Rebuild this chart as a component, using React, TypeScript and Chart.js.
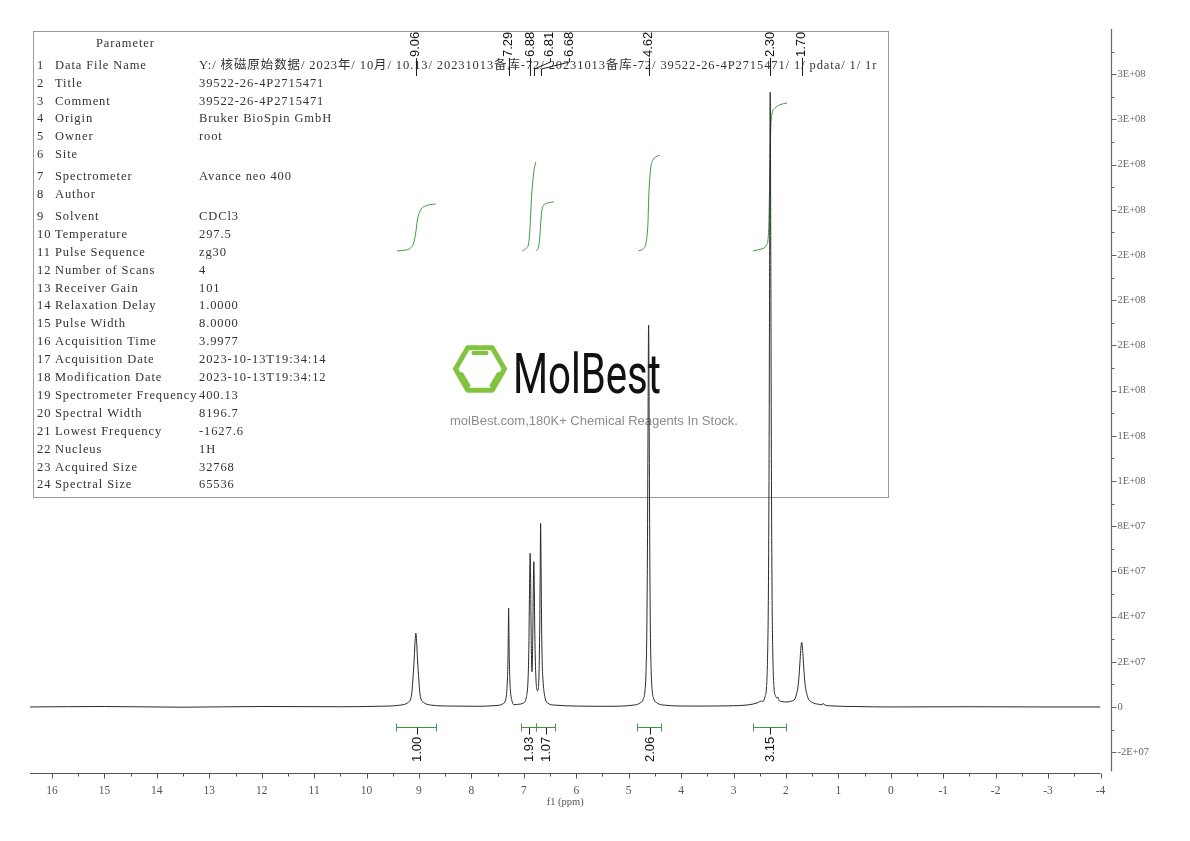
import React, { useEffect, useRef } from "react";
import { Chart, registerables } from "chart.js";

Chart.register(...registerables);

// ---------------- DATA ----------------
// 1H NMR spectrum: [ppm, intensity]
const spectrumPoints: [number, number][] = [
  [16.42, 0], [15.0, 2e5], [13.5, -1e5], [12.0, 2e5], [10.5, 1e5], [9.8, 3e5],
  [9.36, 8e5], [9.22, 1.8e6], [9.16, 3.5e6], [9.135, 6.5e6], [9.117, 1.2e7], [9.105, 1.6e7],
  [9.09, 2.2e7], [9.075, 2.9e7], [9.06, 3.27e7], [9.045, 2.9e7], [9.03, 2.2e7], [9.015, 1.6e7],
  [9.003, 1.2e7], [8.985, 6.5e6], [8.96, 3.5e6], [8.9, 1.8e6], [8.76, 8e5], [8.4, 4e5],
  [7.9, 3e5], [7.55, 6e5], [7.39, 1.5e6], [7.35, 3e6], [7.325, 7e6], [7.312, 1.3e7],
  [7.302, 2.2e7], [7.296, 3.3e7], [7.29, 4.38e7], [7.284, 3.3e7], [7.278, 2.2e7], [7.268, 1.3e7],
  [7.255, 7e6], [7.23, 3e6], [7.19, 1.0e6], [7.1, 1.2e6], [7.02, 1.6e6], [6.95, 4.6e6],
  [6.92, 1.2e7], [6.905, 2.5e7], [6.895, 4.5e7], [6.885, 6.3e7], [6.88, 6.8e7], [6.872, 6.0e7],
  [6.862, 3.5e7], [6.845, 1.56e7], [6.83, 3.0e7], [6.818, 5.5e7], [6.81, 6.43e7], [6.802, 5.6e7],
  [6.79, 3.2e7], [6.77, 1.3e7], [6.737, 7.2e6], [6.71, 1.5e7], [6.697, 3.5e7], [6.688, 6.0e7],
  [6.68, 8.13e7], [6.672, 6.5e7], [6.662, 3.8e7], [6.65, 2.0e7], [6.635, 1.2e7], [6.6, 4.6e6],
  [6.54, 1.6e6], [6.4, 8e5], [6.0, 4e5], [5.4, 3e5], [4.92, 8e5], [4.78, 1.8e6],
  [4.72, 3.5e6], [4.69, 7e6], [4.67, 1.5e7], [4.655, 3.2e7], [4.642, 7e7], [4.632, 1.2e8],
  [4.62, 1.69e8], [4.608, 1.2e8], [4.598, 7e7], [4.585, 3.2e7], [4.57, 1.5e7], [4.55, 7e6],
  [4.52, 3.5e6], [4.46, 1.8e6], [4.32, 8e5], [3.8, 4e5], [3.1, 5e5], [2.7, 1.0e6],
  [2.55, 1.8e6], [2.47, 2.6e6], [2.44, 2.4e6], [2.4, 4.5e6], [2.37, 9e6], [2.35, 2.3e7],
  [2.335, 5e7], [2.322, 1.1e8], [2.312, 1.9e8], [2.3, 2.72e8], [2.288, 1.9e8], [2.278, 1.1e8],
  [2.265, 5e7], [2.25, 2.3e7], [2.23, 9e6], [2.2, 5e6], [2.17, 4e6], [2.155, 4.4e6],
  [2.14, 3.2e6], [2.08, 2.4e6], [1.98, 2.2e6], [1.9, 2.6e6], [1.83, 3.5e6], [1.795, 6e6],
  [1.77, 9e6], [1.748, 1.45e7], [1.73, 2.1e7], [1.715, 2.6e7], [1.7, 2.86e7], [1.685, 2.6e7],
  [1.67, 2.1e7], [1.652, 1.45e7], [1.63, 9e6], [1.605, 6e6], [1.57, 3.5e6], [1.5, 2e6],
  [1.38, 1.2e6], [1.31, 1.0e6], [1.29, 1.6e6], [1.27, 1.0e6], [1.15, 5e5], [0.7, 2e5],
  [0.0, 0], [-1.5, 1e5], [-3.0, 0], [-4.0, 0],
];

// integral traces: [ppm, value on the intensity axis]
const integralCurve1: [number, number][] = [
  [9.42, 2.018e8], [9.26, 2.022e8], [9.16, 2.031e8], [9.1, 2.053e8], [9.06, 2.102e8],
  [9.03, 2.155e8], [8.97, 2.199e8], [8.87, 2.217e8], [8.68, 2.226e8],
];
const integralCurve2: [number, number][] = [
  [7.03, 2.018e8], [6.95, 2.031e8], [6.91, 2.049e8], [6.89, 2.089e8], [6.87, 2.177e8],
  [6.85, 2.266e8], [6.83, 2.323e8], [6.81, 2.367e8], [6.79, 2.394e8], [6.77, 2.412e8],
];
const integralCurve3: [number, number][] = [
  [6.76, 2.018e8], [6.72, 2.035e8], [6.7, 2.066e8], [6.68, 2.133e8], [6.66, 2.19e8],
  [6.62, 2.221e8], [6.55, 2.23e8], [6.43, 2.235e8],
];
const integralCurve4: [number, number][] = [
  [4.82, 2.018e8], [4.71, 2.031e8], [4.66, 2.066e8], [4.63, 2.155e8], [4.62, 2.243e8],
  [4.6, 2.332e8], [4.58, 2.385e8], [4.54, 2.42e8], [4.48, 2.434e8], [4.41, 2.442e8],
];
const integralCurve5: [number, number][] = [
  [2.63, 2.018e8], [2.46, 2.027e8], [2.37, 2.044e8], [2.33, 2.111e8], [2.31, 2.332e8],
  [2.29, 2.553e8], [2.27, 2.619e8], [2.21, 2.65e8], [2.12, 2.664e8], [1.98, 2.673e8],
];

// peak picking
const peakPpm = [9.06, 7.29, 6.88, 6.81, 6.68, 4.62, 2.3, 1.7];
const peakLabels = ["9.06", "7.29", "6.88", "6.81", "6.68", "4.62", "2.30", "1.70"];

// integration ranges
const integralFrom = [9.43, 7.05, 6.76, 4.84, 2.63];
const integralTo = [8.68, 6.76, 6.41, 4.38, 2.0];
const integralLabels = ["1.00", "1.93", "1.07", "2.06", "3.15"];

// axes
const xTickValues = [16, 15, 14, 13, 12, 11, 10, 9, 8, 7, 6, 5, 4, 3, 2, 1, 0, -1, -2, -3, -4];
const xTickLabels = ["16", "15", "14", "13", "12", "11", "10", "9", "8", "7", "6", "5", "4", "3", "2", "1", "0", "-1", "-2", "-3", "-4"];
const yTickValues = [-2e7, 0, 2e7, 4e7, 6e7, 8e7, 1e8, 1.2e8, 1.4e8, 1.6e8, 1.8e8, 2e8, 2.2e8, 2.4e8, 2.6e8, 2.8e8];
const yTickLabels = ["-2E+07", "0", "2E+07", "4E+07", "6E+07", "8E+07", "1E+08", "1E+08", "1E+08", "2E+08", "2E+08", "2E+08", "2E+08", "2E+08", "3E+08", "3E+08"];
const xAxisTitle = "f1 (ppm)";

// parameter table
const paramHeader = "Parameter";
const paramNames = [
  "Data File Name", "Title", "Comment", "Origin", "Owner", "Site", "Spectrometer", "Author",
  "Solvent", "Temperature", "Pulse Sequence", "Number of Scans", "Receiver Gain",
  "Relaxation Delay", "Pulse Width", "Acquisition Time", "Acquisition Date", "Modification Date",
  "Spectrometer Frequency", "Spectral Width", "Lowest Frequency", "Nucleus", "Acquired Size", "Spectral Size",
];
const paramValues = [
  "Y:/ 核磁原始数据/ 2023年/ 10月/ 10.13/ 20231013备库-72/ 20231013备库-72/ 39522-26-4P2715471/ 1/ pdata/ 1/ 1r",
  "39522-26-4P2715471", "39522-26-4P2715471", "Bruker BioSpin GmbH", "root", "", "Avance neo 400", "",
  "CDCl3", "297.5", "zg30", "4", "101", "1.0000", "8.0000", "3.9977", "2023-10-13T19:34:14",
  "2023-10-13T19:34:12", "400.13", "8196.7", "-1627.6", "1H", "32768", "65536",
];

const brandName = "MolBest";
const brandTagline = "molBest.com,180K+ Chemical Reagents In Stock.";

// ---------------- DRAWING HELPERS ----------------
const GREEN = "#3f9a3f";

function rotatedText(ctx: CanvasRenderingContext2D, text: string, x: number, y: number) {
  ctx.save();
  ctx.translate(x, y);
  ctx.rotate(-Math.PI / 2);
  ctx.textAlign = "left";
  ctx.textBaseline = "middle";
  ctx.fillText(text, 0, 0);
  ctx.restore();
}

function drawTable(ctx: CanvasRenderingContext2D) {
  ctx.save();
  ctx.strokeStyle = "#9a9a9a";
  ctx.lineWidth = 1;
  ctx.strokeRect(33.5, 31.5, 855, 466);
  ctx.fillStyle = "#333";
  ctx.font = "12.5px 'Liberation Serif', 'Noto Sans CJK SC', serif";
  ctx.textAlign = "left";
  ctx.textBaseline = "middle";
  const hasLS = "letterSpacing" in ctx;
  if (hasLS) (ctx as any).letterSpacing = "0.9px";
  ctx.fillText(paramHeader, 96, 43.5);
  paramNames.forEach((name, i) => {
    const y = 65.5 + i * 17.9 + (i >= 6 ? 4 : 0) + (i >= 8 ? 4 : 0);
    ctx.fillText(String(i + 1), 37, y);
    ctx.fillText(name, 55, y);
    ctx.fillText(paramValues[i], 199, y);
  });
  ctx.restore();
}

function drawWatermark(ctx: CanvasRenderingContext2D) {
  ctx.save();
  const cx = 480, cy = 369, r = 24.5;
  ctx.strokeStyle = "#82c341";
  ctx.lineWidth = 5;
  ctx.lineJoin = "round";
  ctx.beginPath();
  for (let i = 0; i < 6; i++) {
    const a = (Math.PI / 3) * i;
    const px = cx + r * Math.cos(a), py = cy + r * Math.sin(a);
    if (i === 0) ctx.moveTo(px, py); else ctx.lineTo(px, py);
  }
  ctx.closePath();
  ctx.stroke();
  ctx.lineWidth = 4;
  ctx.lineCap = "round";
  ctx.beginPath();
  ctx.moveTo(473.5, 353); ctx.lineTo(486.5, 353);
  ctx.moveTo(461.5, 374); ctx.lineTo(468.5, 385.5);
  ctx.moveTo(498.5, 374); ctx.lineTo(491.5, 385.5);
  ctx.stroke();

  ctx.fillStyle = "#111";
  ctx.font = "400 56px Roboto, 'Liberation Sans', sans-serif";
  ctx.textBaseline = "alphabetic";
  ctx.textAlign = "left";
  const w = ctx.measureText(brandName).width;
  ctx.save();
  ctx.translate(513, 393);
  ctx.scale(148 / w, 1);
  ctx.fillText(brandName, 0, 0);
  ctx.restore();

  ctx.fillStyle = "#8c8c8c";
  ctx.font = "13px 'Liberation Sans', Arial, sans-serif";
  ctx.textAlign = "center";
  ctx.fillText(brandTagline, 594, 425);
  ctx.restore();
}

function drawAxes(chart: any) {
  const { ctx, chartArea, scales } = chart;
  const xs = scales.x, ys = scales.y;
  ctx.save();
  // X axis
  const ay = Math.round(chartArea.bottom) + 0.5;
  ctx.strokeStyle = "#555";
  ctx.lineWidth = 1;
  ctx.beginPath();
  ctx.moveTo(chartArea.left, ay);
  ctx.lineTo(chartArea.right, ay);
  xTickValues.forEach((v) => {
    const px = Math.round(xs.getPixelForValue(v)) + 0.5;
    ctx.moveTo(px, ay);
    ctx.lineTo(px, ay + 5);
  });
  for (let i = 0; i < xTickValues.length - 1; i++) {
    const px = Math.round(xs.getPixelForValue((xTickValues[i] + xTickValues[i + 1]) / 2)) + 0.5;
    ctx.moveTo(px, ay);
    ctx.lineTo(px, ay + 3);
  }
  ctx.stroke();
  ctx.fillStyle = "#555";
  ctx.font = "11.5px 'Liberation Serif', serif";
  ctx.textAlign = "center";
  ctx.textBaseline = "middle";
  xTickValues.forEach((v, i) => ctx.fillText(xTickLabels[i], xs.getPixelForValue(v), ay + 17));
  ctx.font = "10.5px 'Liberation Serif', serif";
  ctx.fillText(xAxisTitle, (chartArea.left + chartArea.right) / 2, ay + 29);

  // Y axis (right side)
  const ax = Math.round(chartArea.right) + 10.5;
  const yBottom = ys.getPixelForValue(-2.85e7);
  ctx.strokeStyle = "#666";
  ctx.lineWidth = 1.2;
  ctx.beginPath();
  ctx.moveTo(ax, chartArea.top);
  ctx.lineTo(ax, yBottom);
  ctx.stroke();
  ctx.lineWidth = 1;
  ctx.beginPath();
  yTickValues.forEach((v) => {
    const py = Math.round(ys.getPixelForValue(v)) + 0.5;
    ctx.moveTo(ax, py);
    ctx.lineTo(ax + 5, py);
  });
  const step = yTickValues[1] - yTickValues[0];
  yTickValues.forEach((v) => {
    const mv = v + step / 2;
    const py = Math.round(ys.getPixelForValue(mv)) + 0.5;
    ctx.moveTo(ax, py);
    ctx.lineTo(ax + 3, py);
  });
  ctx.stroke();
  ctx.fillStyle = "#666";
  ctx.font = "10.5px 'Liberation Serif', serif";
  ctx.textAlign = "left";
  ctx.textBaseline = "middle";
  yTickValues.forEach((v, i) => ctx.fillText(yTickLabels[i], ax + 6, ys.getPixelForValue(v)));
  ctx.restore();
}

function drawPeakLabels(chart: any) {
  const { ctx, scales } = chart;
  const xs = scales.x;
  const peakX = peakPpm.map((p) => xs.getPixelForValue(p));
  const labelX: number[] = [];
  const gap = 19.5;
  peakX.forEach((px, i) => {
    labelX.push(i === 0 ? px : Math.max(px, labelX[i - 1] + gap));
  });
  ctx.save();
  ctx.fillStyle = "#111";
  ctx.strokeStyle = "#222";
  ctx.lineWidth = 1;
  ctx.font = "13px 'Liberation Sans', Arial, sans-serif";
  peakLabels.forEach((t, i) => rotatedText(ctx, t, labelX[i], 57));
  ctx.beginPath();
  peakX.forEach((px, i) => {
    const lx = Math.round(labelX[i]) + 0.5;
    const pxr = Math.round(px) + 0.5;
    ctx.moveTo(lx, 58);
    if (Math.abs(lx - pxr) < 1) {
      ctx.lineTo(pxr, 76);
    } else {
      ctx.lineTo(lx, 62);
      ctx.lineTo(pxr, 69);
      ctx.lineTo(pxr, 76);
    }
  });
  ctx.stroke();
  ctx.restore();
}

function drawIntegralBars(chart: any) {
  const { ctx, scales } = chart;
  const xs = scales.x;
  ctx.save();
  ctx.lineWidth = 1;
  ctx.font = "13px 'Liberation Sans', Arial, sans-serif";
  ctx.fillStyle = "#111";
  const by = 727.5;
  integralFrom.forEach((from, i) => {
    const x1 = Math.round(xs.getPixelForValue(from)) + 0.5;
    const x2 = Math.round(xs.getPixelForValue(integralTo[i])) + 0.5;
    ctx.strokeStyle = GREEN;
    ctx.beginPath();
    ctx.moveTo(x1, by); ctx.lineTo(x2, by);
    ctx.moveTo(x1, by - 4); ctx.lineTo(x1, by + 4);
    ctx.moveTo(x2, by - 4); ctx.lineTo(x2, by + 4);
    ctx.stroke();
    const cxp = Math.round((x1 + x2) / 2) + 0.5;
    ctx.strokeStyle = "#222";
    ctx.beginPath();
    ctx.moveTo(cxp, by); ctx.lineTo(cxp, by + 7);
    ctx.stroke();
    rotatedText(ctx, integralLabels[i], cxp, 762);
  });
  ctx.restore();
}

const backgroundPlugin = {
  id: "nmrBackground",
  beforeDraw(chart: any) {
    const ctx = chart.ctx;
    ctx.save();
    ctx.fillStyle = "#fff";
    ctx.fillRect(0, 0, chart.width, chart.height);
    ctx.restore();
  },
  beforeDatasetsDraw(chart: any) {
    drawTable(chart.ctx);
    drawWatermark(chart.ctx);
    drawAxes(chart);
  },
};

const overlayPlugin = {
  id: "nmrOverlay",
  afterDatasetsDraw(chart: any) {
    drawPeakLabels(chart);
    drawIntegralBars(chart);
  },
};

const toXY = (pts: [number, number][]) => pts.map(([x, y]) => ({ x, y }));

export default function App() {
  const ref = useRef<HTMLCanvasElement | null>(null);
  useEffect(() => {
    const canvas = ref.current;
    if (!canvas) return;
    const integralDs = [integralCurve1, integralCurve2, integralCurve3, integralCurve4, integralCurve5].map((c) => ({
      data: toXY(c),
      borderColor: GREEN,
      borderWidth: 1,
      pointRadius: 0,
      cubicInterpolationMode: "monotone" as const,
      fill: false,
    }));
    const chart = new Chart(canvas, {
      type: "line",
      data: {
        datasets: [
          {
            data: toXY(spectrumPoints),
            borderColor: "#2a2a2a",
            borderWidth: 1,
            pointRadius: 0,
            cubicInterpolationMode: "monotone",
            fill: false,
          },
          ...integralDs,
        ],
      },
      options: {
        responsive: false,
        animation: false,
        devicePixelRatio: 1,
        layout: { padding: { left: 30, right: 89.5, top: 29, bottom: 68.5 } },
        scales: {
          x: { type: "linear", reverse: true, min: -4, max: 16.42, display: false },
          y: { type: "linear", min: -2.9e7, max: 3.0e8, display: false },
        },
        plugins: { legend: { display: false }, tooltip: { enabled: false } },
        elements: { point: { radius: 0 } },
      },
      plugins: [backgroundPlugin, overlayPlugin],
    } as any);
    return () => chart.destroy();
  }, []);
  return (
    <canvas
      ref={ref}
      width={1190}
      height={841}
      style={{ position: "absolute", left: 0, top: 0, width: 1190, height: 841 }}
    />
  );
}
